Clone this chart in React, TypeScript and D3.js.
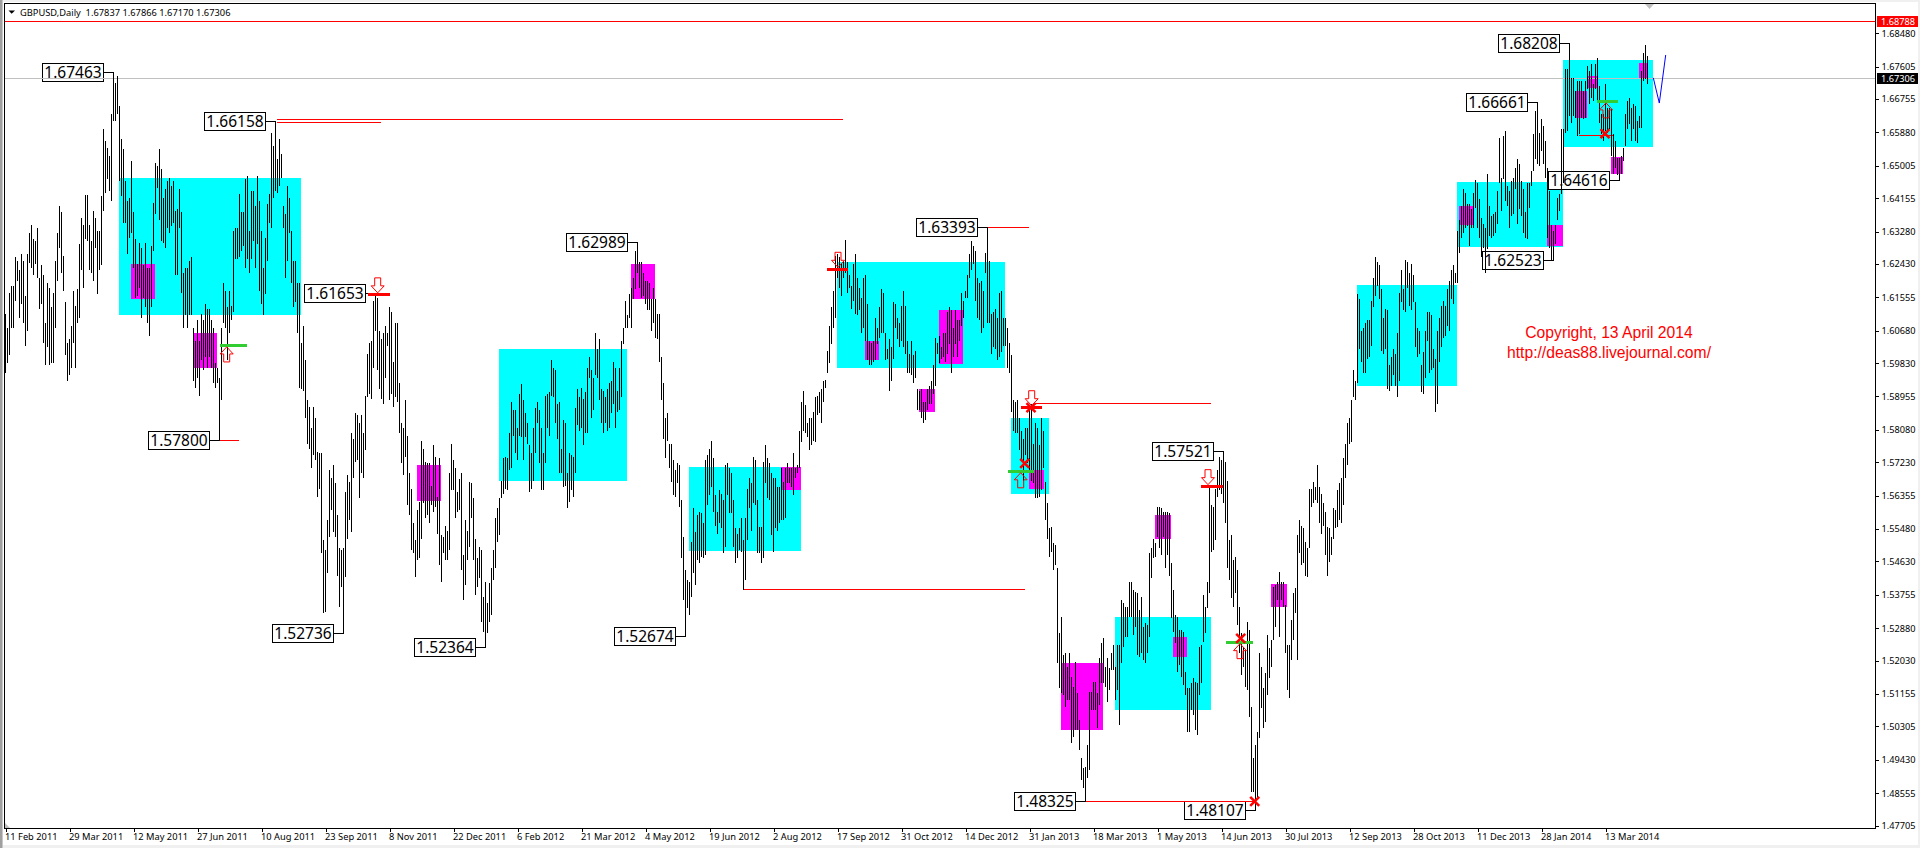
import { useEffect, useRef } from "react";
import * as d3 from "d3";

// daily highs / lows of GBPUSD, in pips (price * 10000)
const highPips = [
  16113,16076,16168,16184,16184,16260,16252,16226,16270,16252,16160,16270,16325,16344,16309,16304,16338,16207,16239,16213,
  16087,16194,16181,16129,16168,16252,16325,16396,16378,16265,16142,16037,16047,16081,16173,16134,16178,16296,16364,16344,
  16425,16425,16344,16304,16383,16364,16330,16330,16422,16598,16566,16548,16527,16637,16747,16718,16736,16658,16571,16545,
  16461,16409,16417,16514,16378,16309,16244,16299,16286,16239,16299,16233,16233,16291,16404,16509,16501,16545,16493,16417,
  16440,16461,16469,16448,16461,16383,16388,16440,16378,16220,16233,16233,16252,16260,16074,16042,16095,16042,16113,16095,
  16139,16126,16126,16095,16074,15982,15971,15945,16076,16192,16173,16129,16173,16134,16330,16338,16338,16427,16378,16378,
  16467,16474,16330,16435,16435,16396,16474,16409,16330,16233,16312,16401,16427,16587,16553,16616,16519,16571,16532,16396,
  16375,16448,16417,16330,16252,16252,16192,16194,16037,16081,15990,15885,15867,15812,15867,15840,15749,15746,15746,15518,
  15492,15571,15702,15681,15715,15668,15584,15497,15492,15497,15644,15689,15670,15799,15785,15851,15846,15825,15846,15801,
  15898,16008,16037,16042,16147,16165,16155,16068,16047,16063,16081,16063,16129,16116,15985,16089,16089,15930,15825,15812,
  15885,15793,15694,15654,15565,15518,15597,15618,15780,15759,15723,15720,15720,15662,15767,15736,15631,15733,15531,15526,
  15557,15544,15696,15772,15728,15707,15644,15678,15694,15479,15571,15544,15670,15668,15628,15523,15471,15500,15492,15369,
  15408,15353,15406,15445,15492,15576,15602,15628,15675,15733,15736,15733,15799,15880,15859,15859,15812,15903,15927,15885,
  15851,15827,15767,15746,15814,15864,15880,15859,15812,15746,15898,15903,15906,15990,15971,15964,15877,15880,15759,15833,
  15827,15696,15746,15741,15736,15864,15916,15893,15919,15890,15906,15971,15998,15964,15945,16061,16021,16047,15916,15911,
  15893,15916,15930,15937,15985,15969,15911,15969,16042,16076,16147,16108,16165,16181,16205,16278,16299,16247,16247,16218,
  16199,16199,16194,16152,16181,16152,16113,16113,15998,15932,15840,15851,15772,15772,15728,15702,15720,15715,15623,15526,
  15440,15413,15408,15513,15602,15539,15584,15592,15589,15565,15728,15741,15759,15778,15733,15636,15592,15649,15641,15623,
  15715,15720,15709,15694,15623,15550,15536,15550,15578,15518,15578,15654,15681,15668,15736,15728,15623,15552,15552,15723,
  15767,15733,15720,15694,15683,15681,15657,15657,15709,15670,15709,15720,15709,15707,15746,15707,15715,15806,15880,15911,
  15872,15827,15838,15838,15854,15893,15898,15906,15916,15937,15940,16016,16081,16129,16173,16265,16270,16260,16244,16252,
  16307,16247,16213,16186,16244,16270,16205,16181,16155,16205,16213,16139,16042,16037,16042,16100,16076,16129,16178,16168,
  16063,16021,16047,16024,16142,16139,16100,16087,16134,16173,16134,16042,16008,16042,16003,16016,15916,15911,15916,15880,
  15880,15916,15924,15937,15977,16050,16037,16055,16024,16061,16061,16116,16129,16121,16076,16121,16095,16095,16168,16147,
  16173,16213,16270,16304,16291,16278,16205,16194,16199,16173,16273,16339,16252,16113,16116,16126,16100,16168,16173,16100,
  16100,16076,16037,16003,15885,15880,15885,15838,15806,15785,15812,15814,15872,15877,15772,15827,15814,15767,15840,15806,
  15670,15615,15550,15552,15510,15505,15447,15275,15317,15217,15222,15185,15222,15159,15133,15199,15117,15047,14947,14921,
  14923,14981,15120,15120,15146,15146,15117,15209,15248,15261,15185,15209,15183,15222,15243,15185,15243,15243,15361,15353,
  15343,15343,15408,15408,15387,15382,15379,15335,15369,15290,15301,15296,15484,15497,15523,15510,15605,15605,15602,15592,
  15592,15592,15589,15458,15387,15322,15317,15282,15282,15277,15172,15130,15130,15143,15157,15146,15143,15238,15243,15374,
  15343,15408,15657,15610,15605,15654,15702,15736,15728,15752,15723,15675,15518,15531,15466,15474,15440,15343,15275,15238,
  15230,15303,15282,15081,14947,14981,15015,15222,15185,15130,15170,15269,15235,15256,15395,15400,15408,15434,15408,15408,
  15348,15243,15243,15309,15379,15392,15531,15571,15557,15550,15513,15497,15654,15654,15670,15657,15715,15657,15641,15615,
  15592,15552,15550,15526,15602,15597,15649,15668,15681,15733,15772,15827,15838,15885,15964,15937,16165,16152,16068,16074,
  16089,16095,16095,16147,16205,16260,16247,16239,16178,16100,16126,16121,15977,15998,16021,16008,16061,16168,16226,16178,
  16254,16247,16220,16244,16213,16142,16076,16068,15977,16011,16068,16116,16116,16108,16021,15995,16068,16100,16134,16147,
  16134,16178,16199,16226,16239,16218,16330,16357,16396,16440,16430,16401,16401,16388,16430,16464,16456,16414,16364,16349,
  16336,16480,16396,16370,16375,16378,16435,16574,16469,16579,16592,16448,16435,16461,16469,16495,16519,16506,16461,16440,
  16378,16456,16456,16488,16585,16645,16666,16587,16624,16606,16566,16495,16435,16344,16330,16344,16417,16427,16598,16598,
  16755,16755,16821,16731,16731,16697,16723,16723,16723,16697,16723,16763,16750,16768,16716,16768,16784,16710,16637,16637,
  16716,16653,16653,16650,16585,16566,16522,16522,16527,16548,16637,16671,16679,16653,16663,16658,16619,16632,16750,16797,16818,16789,
];

const lowPips = [
  15958,15982,16003,16076,16074,16147,16199,16100,16139,16087,16029,16068,16246,16233,16213,16244,16205,16126,16139,16037,
  15977,16024,15977,15982,15982,16076,16199,16286,16218,16173,16003,15935,15951,15971,16037,15971,16089,16100,16226,16181,
  16309,16304,16226,16220,16199,16286,16165,16226,16239,16383,16430,16467,16435,16409,16619,16619,16637,16461,16422,16351,
  16351,16270,16312,16323,16233,16155,16160,16181,16102,16155,16129,16087,16055,16129,16278,16375,16443,16357,16304,16299,
  16286,16338,16323,16343,16351,16213,16213,16336,16168,16074,16108,16076,16108,16108,15937,15919,15943,15898,15990,15964,
  15998,15971,15998,15971,15930,15919,15930,15780,15885,16087,16074,15990,16061,16095,16116,16257,16257,16260,16278,16291,
  16233,16257,16220,16257,16304,16233,16296,16173,16139,16108,16165,16252,16351,16338,16417,16435,16430,16448,16469,16338,
  16205,16252,16323,16192,16129,16142,16061,15919,15916,15911,15840,15772,15759,15707,15741,15728,15631,15654,15484,15327,
  15330,15432,15526,15597,15539,15526,15426,15343,15395,15274,15421,15523,15571,15539,15681,15723,15728,15628,15694,15681,
  15754,15893,15903,15890,15971,16068,15964,15916,15890,15877,15943,16029,15885,15903,15867,15893,15880,15799,15720,15689,
  15736,15610,15584,15492,15484,15421,15466,15471,15523,15615,15576,15584,15563,15610,15592,15605,15536,15453,15408,15484,
  15466,15466,15492,15649,15649,15578,15592,15597,15440,15361,15400,15466,15500,15578,15466,15374,15395,15419,15303,15277,
  15236,15275,15303,15322,15413,15447,15513,15531,15628,15641,15654,15649,15702,15709,15793,15746,15728,15793,15788,15728,
  15788,15772,15644,15654,15675,15746,15825,15720,15649,15649,15720,15812,15793,15898,15893,15825,15785,15694,15696,15657,
  15662,15602,15618,15649,15631,15694,15820,15806,15814,15767,15801,15799,15943,15838,15859,15951,15943,15885,15827,15801,
  15825,15806,15812,15851,15877,15814,15854,15859,15893,16034,16076,16076,16100,16076,16152,16178,16218,16181,16155,16160,
  16139,16121,16121,16068,16089,16050,16047,15985,15885,15785,15733,15780,15709,15670,15636,15631,15668,15605,15471,15361,
  15267,15340,15322,15369,15432,15400,15466,15458,15474,15471,15479,15610,15636,15657,15592,15557,15536,15563,15550,15484,
  15500,15636,15589,15589,15500,15458,15471,15492,15487,15387,15413,15518,15602,15544,15615,15610,15484,15484,15458,15471,
  15668,15628,15623,15531,15487,15550,15544,15565,15571,15571,15576,15668,15668,15657,15636,15681,15696,15709,15775,15806,
  15801,15788,15754,15767,15780,15775,15846,15851,15825,15880,15919,15956,15982,16034,16076,16102,16207,16181,16160,16207,
  16220,16168,16181,16126,16147,16113,16108,16121,16063,16076,16042,15990,15977,15977,15985,15990,16034,16050,16061,16063,
  15990,15995,15911,15937,15995,16076,16047,16024,16042,16024,16008,15956,15958,15951,15930,15943,15859,15859,15840,15827,
  15833,15859,15877,15877,15903,15924,16008,15982,15995,15998,15985,16008,16034,15958,15998,16034,15998,16042,16081,16100,
  16155,16155,16207,16226,16244,16147,16100,16095,16063,16076,16220,16089,16089,16008,16024,16021,15990,15998,16011,16029,
  16029,15971,15956,15854,15806,15801,15799,15754,15728,15675,15741,15720,15702,15675,15668,15628,15628,15631,15649,15709,
  15571,15523,15474,15487,15440,15453,15196,15130,15117,15112,15081,15099,15099,14986,15002,15020,15020,14968,14889,14868,
  14833,14895,14916,15073,15073,15073,15026,15086,15143,15143,15133,15094,15125,15178,15178,15099,15125,15034,15196,15238,
  15264,15264,15317,15317,15269,15290,15217,15212,15222,15204,15196,15222,15264,15419,15471,15474,15526,15497,15479,15526,
  15445,15479,15426,15314,15277,15248,15172,15191,15159,15138,15112,15015,15015,15073,15060,15020,15007,15112,15143,15251,
  15275,15340,15379,15487,15492,15518,15631,15649,15641,15615,15563,15447,15413,15366,15343,15379,15296,15222,15165,15185,
  15133,15125,15054,14858,14858,14811,14845,15000,15078,15026,15041,15112,15157,15185,15256,15290,15361,15264,15361,15343,
  15222,15125,15104,15204,15256,15327,15204,15484,15453,15458,15426,15421,15497,15605,15615,15623,15615,15563,15536,15557,
  15479,15426,15461,15479,15523,15550,15552,15571,15563,15610,15683,15715,15772,15775,15893,15885,15930,16021,15985,15956,
  15956,15995,15998,16029,16129,16160,16186,16152,16016,16008,16021,15916,15911,15924,15951,15924,15893,15937,16142,16121,
  16116,16181,16134,16121,16142,16024,15998,16008,15906,15903,15945,16042,15956,15964,15971,15854,15877,15985,16024,16050,
  16055,16081,16068,16152,16139,16194,16194,16273,16312,16323,16338,16343,16291,16336,16338,16391,16338,16312,16260,16286,
  16218,16283,16317,16312,16317,16325,16349,16456,16383,16467,16409,16396,16336,16370,16375,16440,16349,16388,16370,16323,
  16312,16309,16391,16448,16488,16519,16506,16501,16540,16506,16469,16312,16286,16252,16252,16296,16357,16383,16427,16456,
  16587,16592,16632,16613,16632,16626,16579,16585,16626,16624,16626,16702,16663,16679,16671,16702,16666,16613,16585,16566,
  16592,16587,16598,16527,16480,16495,16475,16462,16480,16514,16553,16598,16611,16566,16598,16566,16561,16600,16600,16723,16729,16716,
];

const dateLabels = [
  "11 Feb 2011", "29 Mar 2011", "12 May 2011", "27 Jun 2011", "10 Aug 2011", "23 Sep 2011", "8 Nov 2011",
  "22 Dec 2011", "6 Feb 2012", "21 Mar 2012", "4 May 2012", "19 Jun 2012", "2 Aug 2012", "17 Sep 2012",
  "31 Oct 2012", "14 Dec 2012", "31 Jan 2013", "18 Mar 2013", "1 May 2013", "14 Jun 2013", "30 Jul 2013",
  "12 Sep 2013", "28 Oct 2013", "11 Dec 2013", "28 Jan 2014", "13 Mar 2014",
];
const barsPerDateLabel = 32;

const priceTicks = [
  1.6848, 1.67605, 1.66755, 1.6588, 1.65005, 1.64155, 1.6328, 1.6243, 1.61555, 1.6068, 1.5983, 1.58955, 1.5808,
  1.5723, 1.56355, 1.5548, 1.5463, 1.53755, 1.5288, 1.5203, 1.51155, 1.50305, 1.4943, 1.48555, 1.47705,
];

const askPrice = 1.68788;
const bidPrice = 1.67306;
const titleText = "GBPUSD,Daily  1.67837 1.67866 1.67170 1.67306";
const copyrightLines = ["Copyright, 13 April 2014", "http://deas88.livejournal.com/"];

// [from bar, to bar, upper pips, lower pips]
const cyanZones = [
  [56.75, 147.75, 16469, 16108],
  [246.75, 310.6, 16019, 15674],
  [341.75, 397.75, 15710, 15490],
  [415.75, 499.75, 16249, 15970],
  [502.75, 521.75, 15838, 15639],
  [554.75, 602.75, 15317, 15073],
  [675.75, 725.75, 16189, 15924],
  [725.75, 778.75, 16459, 16287],
  [778.75, 823.75, 16778, 16550],
];
const magentaZones = [
  [62.75, 74.75, 16244, 16150],
  [93.9, 105.9, 16063, 15970],
  [205.75, 217.75, 15715, 15621],
  [312.75, 324.75, 16244, 16150],
  [387.75, 397.75, 15710, 15650],
  [429.75, 436.75, 16042, 15990],
  [466.75, 478.75, 16121, 15980],
  [456.75, 464.75, 15916, 15856],
  [511.75, 519.1, 15704, 15652],
  [527.75, 548.75, 15196, 15020],
  [574.75, 582.75, 15586, 15523],
  [583.75, 590.75, 15264, 15212],
  [632.75, 640.75, 15403, 15343],
  [726.75, 733.75, 16396, 16344],
  [770.75, 778.75, 16344, 16291],
  [784.75, 790.75, 16697, 16626],
  [790.75, 795.75, 16736, 16705],
  [802.75, 808.75, 16524, 16480],
  [816.75, 820.75, 16771, 16731],
];

// swing labels: [bar, price]
const swingLabels = [
  [54, 1.67463], [135, 1.66158], [185, 1.61653], [107, 1.578], [169, 1.52736], [240, 1.52364],
  [316, 1.62989], [340, 1.52674], [491, 1.63393], [609, 1.57521], [540, 1.48325], [625, 1.48107],
  [782, 1.68208], [766, 1.66661], [807, 1.64616], [774, 1.62523],
];

// thin red levels: [from bar, to bar, pips]
const redLevels = [
  [135.6, 418.5, 16623],
  [135.5, 187.6, 16615],
  [107, 116.75, 15780],
  [491, 511.5, 16339],
  [514.75, 602.6, 15876],
  [368.9, 509.6, 15389],
  [540, 623.75, 14833],
  [786.9, 803.75, 16581],
];

// thick entry marks: [from bar, to bar, pips, arrow bar]
const sellMarks = [
  [181.25, 192.25, 16162, 186.1],
  [410.6, 421.25, 16229, 416.25],
  [507.6, 518.25, 15866, 513.1],
  [597.6, 608.6, 15659, 601.25],
];
const buyMarks = [
  [107.25, 120.6, 16028, 110.6],
  [501.25, 514.25, 15698, 507.6],
  [610.25, 623.6, 15250, 617.25],
  [795.6, 806.4, 16668, 800.25],
];
// stop crosses: [bar, pips]
const crossMarks = [
  [512.75, 15866],
  [509.6, 15720],
  [617.6, 15261],
  [799.75, 16585],
  [624.6, 14834],
];
// projected path at the right end: [bar, pips]
const projection = [
  [823.9, 16731],
  [826.9, 16665],
  [830.1, 16791],
];

const labelFont = "'Noto Sans', Tahoma, sans-serif";

export default function App() {
  const svgRef = useRef<SVGSVGElement | null>(null);

  useEffect(() => {
    if (!svgRef.current) return;
    const svg = d3.select(svgRef.current);
    svg.selectAll("*").remove();

    const plot = { left: 4.5, top: 3.5, right: 1875.5, bottom: 828.5 };

    const x = d3.scaleLinear().domain([0, barsPerDateLabel]).range([5.5, 69.5]);
    const y = d3.scaleLinear().domain([1.47705, askPrice]).range([825.5, 21.5]);
    const py = (pips: number) => y(pips / 10000);
    const crisp = (v: number) => Math.floor(v) + 0.5;

    // window background
    svg.append("rect").attr("width", 1920).attr("height", 848).attr("fill", "#f0f0f0");
    svg.append("rect").attr("x", 3).attr("y", 2).attr("width", 1915).attr("height", 843).attr("fill", "#ffffff");
    svg.append("rect").attr("x", 0).attr("y", 0).attr("width", 2.5).attr("height", 848).attr("fill", "#a0a0a0");

    const chart = svg.append("g").attr("shape-rendering", "crispEdges");

    const drawZones = (zones: number[][], color: string) => {
      chart
        .append("g")
        .selectAll("rect")
        .data(zones)
        .join("rect")
        .attr("x", (d) => x(d[0]))
        .attr("y", (d) => py(d[2]))
        .attr("width", (d) => x(d[1]) - x(d[0]))
        .attr("height", (d) => py(d[3]) - py(d[2]))
        .attr("fill", color);
    };
    drawZones(cyanZones, "#00ffff");
    drawZones(magentaZones, "#ff00ff");

    // label boxes sit under the bars
    const boxW = 61;
    const boxH = 18;
    chart
      .append("g")
      .selectAll("rect")
      .data(swingLabels)
      .join("rect")
      .attr("x", (d) => x(d[0]) - 10 - boxW)
      .attr("y", (d) => crisp(y(d[1]) - boxH / 2))
      .attr("width", boxW)
      .attr("height", boxH)
      .attr("fill", "#ffffff")
      .attr("stroke", "#000000");

    // horizontal price lines
    chart
      .append("line")
      .attr("x1", plot.left)
      .attr("x2", plot.right)
      .attr("y1", crisp(y(bidPrice)))
      .attr("y2", crisp(y(bidPrice)))
      .attr("stroke", "#c0c0c0");
    chart
      .append("line")
      .attr("x1", plot.left)
      .attr("x2", plot.right)
      .attr("y1", crisp(y(askPrice)))
      .attr("y2", crisp(y(askPrice)))
      .attr("stroke", "#ff0000");

    chart
      .append("g")
      .selectAll("line")
      .data(redLevels)
      .join("line")
      .attr("x1", (d) => x(d[0]))
      .attr("x2", (d) => x(d[1]))
      .attr("y1", (d) => crisp(py(d[2])))
      .attr("y2", (d) => crisp(py(d[2])))
      .attr("stroke", "#ff0000");

    // high-low bars
    chart
      .append("g")
      .attr("stroke", "#000000")
      .selectAll("line")
      .data(highPips)
      .join("line")
      .attr("x1", (_, i) => x(i))
      .attr("x2", (_, i) => x(i))
      .attr("y1", (d) => py(d))
      .attr("y2", (_, i) => py(lowPips[i]));

    // leaders from the boxes to their bars
    chart
      .append("g")
      .selectAll("line")
      .data(swingLabels)
      .join("line")
      .attr("x1", (d) => x(d[0]) - 10)
      .attr("x2", (d) => x(d[0]))
      .attr("y1", (d) => crisp(y(d[1])))
      .attr("y2", (d) => crisp(y(d[1])))
      .attr("stroke", "#000000");

    svg
      .append("g")
      .selectAll("text")
      .data(swingLabels)
      .join("text")
      .attr("x", (d) => x(d[0]) - 10 - boxW / 2)
      .attr("y", (d) => crisp(y(d[1])) + 5.8)
      .attr("text-anchor", "middle")
      .attr("font-family", labelFont)
      .attr("font-size", 15.5)
      .attr("fill", "#000000")
      .text((d) => d[1].toFixed(5));

    // entry marks and hollow arrows
    const thick = (marks: number[][], color: string) => {
      chart
        .append("g")
        .selectAll("line")
        .data(marks)
        .join("line")
        .attr("x1", (d) => x(d[0]))
        .attr("x2", (d) => x(d[1]))
        .attr("y1", (d) => py(d[2]))
        .attr("y2", (d) => py(d[2]))
        .attr("stroke", color)
        .attr("stroke-width", 3);
    };
    thick(buyMarks, "#32cd32");
    thick(sellMarks, "#ff0000");

    const arrowPath = d3.line()([
      [-3, 0], [-3, 8], [-6.5, 8], [0, 15], [6.5, 8], [3, 8], [3, 0], [-3, 0],
    ]);
    const arrows = svg.append("g").attr("fill", "none").attr("stroke", "#ff0000");
    arrows
      .selectAll("path.down")
      .data(sellMarks)
      .join("path")
      .attr("class", "down")
      .attr("d", arrowPath)
      .attr("transform", (d) => `translate(${x(d[3])},${py(d[2]) - 17})`);
    arrows
      .selectAll("path.up")
      .data(buyMarks)
      .join("path")
      .attr("class", "up")
      .attr("d", arrowPath)
      .attr("transform", (d) => `translate(${x(d[3])},${py(d[2]) + 16}) scale(1,-1)`);

    svg
      .append("g")
      .attr("stroke", "#ff0000")
      .attr("stroke-width", 2.5)
      .selectAll("path")
      .data(crossMarks)
      .join("path")
      .attr("d", "M-4.5,-4.5L4.5,4.5M4.5,-4.5L-4.5,4.5")
      .attr("transform", (d) => `translate(${x(d[0])},${py(d[1])})`);

    // projected path
    const projLine = d3
      .line<number[]>()
      .x((d) => x(d[0]))
      .y((d) => py(d[1]));
    svg
      .append("path")
      .attr("d", projLine(projection))
      .attr("fill", "none")
      .attr("stroke", "#0000ff");

    // copyright note
    svg
      .append("g")
      .attr("font-family", "'Liberation Sans', Arial, sans-serif")
      .attr("font-size", 15.7)
      .attr("fill", "#ff0000")
      .attr("text-anchor", "middle")
      .selectAll("text")
      .data(copyrightLines)
      .join("text")
      .attr("x", 1609)
      .attr("y", (_, i) => 338 + i * 20)
      .text((d) => d);

    // frame
    svg
      .append("rect")
      .attr("x", plot.left)
      .attr("y", plot.top)
      .attr("width", plot.right - plot.left)
      .attr("height", plot.bottom - plot.top)
      .attr("fill", "none")
      .attr("stroke", "#000000")
      .attr("shape-rendering", "crispEdges");

    // shift markers
    svg.append("path").attr("d", "M1645,4L1654,4L1649.5,9Z").attr("fill", "#c0c0c0");
    svg.append("path").attr("d", "M5,823L10,828L5,828Z").attr("fill", "#c0c0c0");

    // axes
    const priceAxis = d3
      .axisRight(y)
      .tickValues(priceTicks)
      .tickSize(3)
      .tickPadding(3)
      .tickFormat((d) => d3.format(".5f")(d as number));
    const priceG = svg.append("g").attr("transform", `translate(${plot.right},0)`).call(priceAxis);
    priceG.select(".domain").remove();
    priceG.selectAll("line").attr("shape-rendering", "crispEdges");
    priceG
      .selectAll("text")
      .attr("font-family", labelFont)
      .attr("font-size", 9.2)
      .attr("fill", "#000000");

    const dateAxis = d3
      .axisBottom(x)
      .tickValues(dateLabels.map((_, i) => i * barsPerDateLabel))
      .tickSize(3)
      .tickPadding(2)
      .tickFormat((_, i) => dateLabels[i]);
    const dateG = svg.append("g").attr("transform", `translate(0,${plot.bottom})`).call(dateAxis);
    dateG.select(".domain").remove();
    dateG.selectAll("line").attr("shape-rendering", "crispEdges");
    dateG
      .selectAll("text")
      .attr("font-family", labelFont)
      .attr("font-size", 9.3)
      .attr("fill", "#000000")
      .attr("text-anchor", "start")
      .attr("dx", -1);

    // price tags on the axis
    const tags = [
      { price: askPrice, fill: "#ff0000" },
      { price: bidPrice, fill: "#000000" },
    ];
    const tagG = svg.append("g").selectAll("g").data(tags).join("g");
    tagG
      .append("rect")
      .attr("x", 1877)
      .attr("y", (d) => y(d.price) - 5.5)
      .attr("width", 41)
      .attr("height", 11)
      .attr("fill", (d) => d.fill)
      .attr("shape-rendering", "crispEdges");
    tagG
      .append("text")
      .attr("x", 1881)
      .attr("y", (d) => y(d.price) + 3.5)
      .attr("font-family", labelFont)
      .attr("font-size", 9.2)
      .attr("fill", "#ffffff")
      .text((d) => d.price.toFixed(5));

    // title
    svg.append("path").attr("d", "M8.5,10.5L15,10.5L11.7,13.7Z").attr("fill", "#000000");
    svg
      .append("text")
      .attr("x", 20)
      .attr("y", 15.5)
      .attr("font-family", labelFont)
      .attr("font-size", 9.3)
      .attr("fill", "#000000")
      .attr("xml:space", "preserve")
      .style("white-space", "pre")
      .text(titleText);
  }, []);

  return (
    <svg
      ref={svgRef}
      width={1920}
      height={848}
      style={{ position: "absolute", left: 0, top: 0, display: "block" }}
    />
  );
}
